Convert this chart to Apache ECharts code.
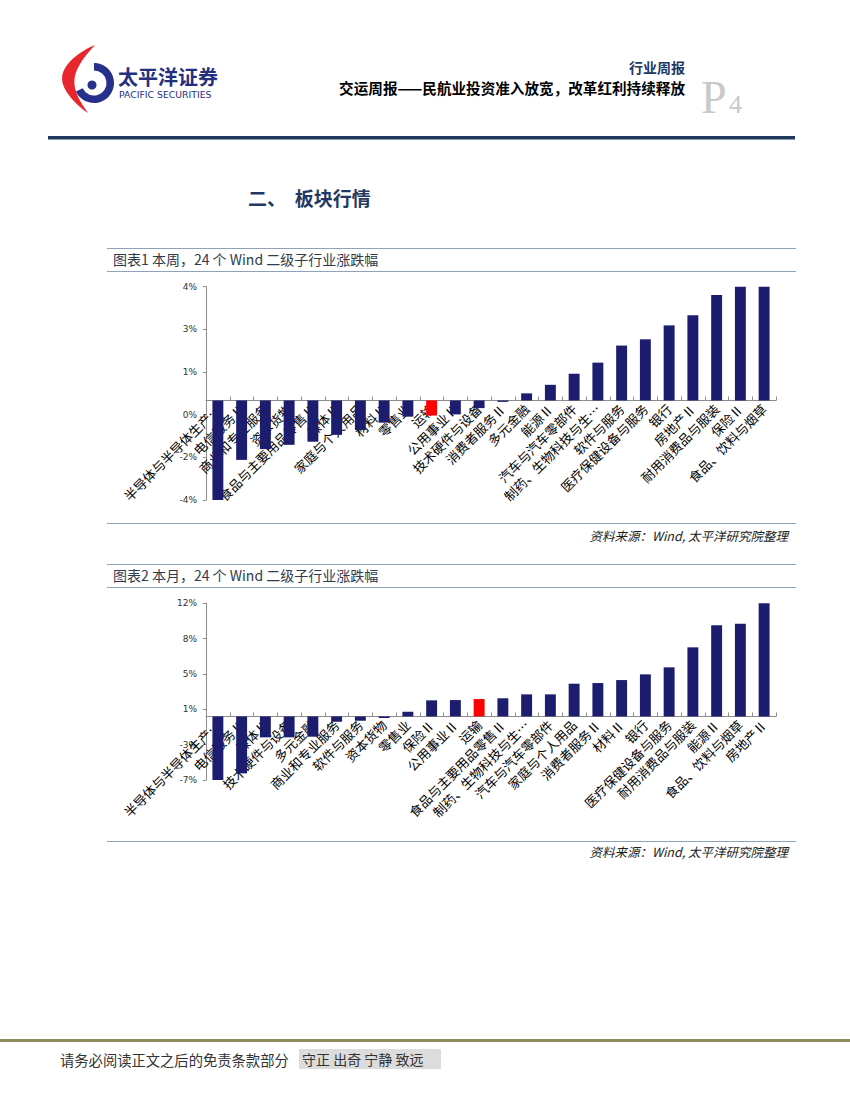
<!DOCTYPE html>
<html>
<head>
<meta charset="utf-8">
<script src="https://cdn.jsdelivr.net/npm/echarts@6/dist/echarts.min.js"></script>
<style>
html,body{margin:0;padding:0;background:#fff;}
#main{width:850px;height:1100px;}
</style>
</head>
<body>
<div id="main"></div>
<script>
// ---------- data ----------
const weekCategories = ['半导体与半导体生产…','电信服务Ⅱ','商业和专业服务','资本货物','食品与主要用品零售Ⅱ','媒体Ⅱ','家庭与个人用品','材料Ⅱ','零售业','运输','公用事业Ⅱ','技术硬件与设备','消费者服务Ⅱ','多元金融','能源Ⅱ','汽车与汽车零部件','制药、生物科技与生…','软件与服务','医疗保健设备与服务','银行','房地产Ⅱ','耐用消费品与服装','保险Ⅱ','食品、饮料与烟草'];
const weekValues = [-3.5,-2.09,-1.71,-1.56,-1.45,-1.21,-1.04,-0.78,-0.57,-0.53,-0.49,-0.27,-0.05,0.25,0.55,0.94,1.33,1.93,2.15,2.64,3.0,3.71,4.0,4.0];
const weekTickValues = [-3.5,-2,-0.5,1,2.5,4];
const weekTickLabels = ['-4%','-2%','0%','1%','3%','4%'];

const monthCategories = ['半导体与半导体生产…','电信服务Ⅱ','媒体Ⅱ','技术硬件与设备','多元金融','商业和专业服务','软件与服务','资本货物','零售业','保险Ⅱ','公用事业Ⅱ','运输','食品与主要用品零售Ⅱ','制药、生物科技与生…','汽车与汽车零部件','家庭与个人用品','消费者服务Ⅱ','材料Ⅱ','银行','医疗保健设备与服务','耐用消费品与服装','能源Ⅱ','食品、饮料与烟草','房地产Ⅱ'];
const monthValues = [-6.8,-6.09,-2.24,-2.24,-2.17,-0.57,-0.46,-0.17,0.5,1.72,1.75,1.86,1.94,2.36,2.36,3.5,3.57,3.89,4.5,5.25,7.39,9.74,9.91,12.1];
const monthTickValues = [-6.8,-3.02,0.76,4.54,8.32,12.1];
const monthTickLabels = ['-7%','-3%','1%','5%','8%','12%'];

const highlightCategory = '运输';

// ---------- styles ----------
const NAVY = '#1d1d6f';
const RED = '#ff0000';
const CJK = '"Noto Sans CJK SC", sans-serif';

const grid1 = {left:206, top:286.7, width:570, height:213.3};
const grid2 = {left:206, top:603.3, width:570, height:176.7};

function barData(cats, vals){
  return vals.map((v,i)=>({value:v,itemStyle:{color: cats[i]===highlightCategory ? RED : NAVY}}));
}
function tickFormatter(ticks, labels){
  return function(v){
    let best=0, d=Infinity;
    ticks.forEach((t,i)=>{ if(Math.abs(t-v)<d){d=Math.abs(t-v);best=i;} });
    return labels[best];
  };
}
// shift the category axis (line, ticks, labels) up to the zero line
function zeroOffset(g, mn, mx){
  return -(g.height * (0 - mn) / (mx - mn));
}
function xAxisCfg(cats, gi, off){
  return {
    type:'category', gridIndex:gi, data:cats, position:'bottom', offset:off,
    axisLine:{onZero:false, lineStyle:{color:'#8c8c8c', width:1}},
    axisTick:{show:true, inside:true, length:4, lineStyle:{color:'#8c8c8c'}},
    axisLabel:{interval:0, rotate:45, margin:6, color:'#000', fontSize:13, fontFamily:CJK, hideOverlap:false},
    splitLine:{show:false}
  };
}
function yAxisCfg(gi, mn, mx, ticks, labels){
  return {
    type:'value', gridIndex:gi, min:mn, max:mx,
    axisLine:{show:true, lineStyle:{color:'#8c8c8c', width:1}},
    axisTick:{show:true, length:3, customValues:ticks, lineStyle:{color:'#8c8c8c'}},
    axisLabel:{customValues:ticks, formatter:tickFormatter(ticks,labels), color:'#333', fontSize:9, fontFamily:'"DejaVu Sans", sans-serif', margin:9},
    splitLine:{show:false}
  };
}

function hline(x, y, w, h, color){
  return {type:'rect', shape:{x:x, y:y, width:w, height:h}, style:{fill:color}, silent:true};
}
function txt(x, y, text, font, fill, align){
  return {type:'text', x:x, y:y, style:{text:text, font:font, fill:fill, align:align||'left', verticalAlign:'middle'}, silent:true};
}
// logo crescent outline (decorative)
function crescentPoints(){
  const pts=[]; const N=30;
  for(let i=0;i<=N;i++){const t=i/N; const s=Math.sin(Math.PI*t); pts.push([95+(88-95)*t - 31*Math.pow(s,0.85)*(1.1-0.3*t), 45+(113-45)*t]);}
  for(let i=N;i>=0;i--){const t=i/N; const s=Math.sin(Math.PI*t); pts.push([95+(88-95)*t - 17*s, 45+(113-45)*t]);}
  return pts;
}

const LINE = '#8ea3b8';
const graphics = [
  {type:'polygon', shape:{points:crescentPoints()}, style:{fill:'#e8262d'}, silent:true},
  {type:'sector', shape:{cx:94, cy:83, r:20, r0:12.5, startAngle:-Math.PI/2, endAngle:Math.PI*0.86, clockwise:true}, style:{fill:'#27318b'}, silent:true},
  {type:'circle', shape:{cx:92, cy:85, r:4.5}, style:{fill:'#27318b'}, silent:true},
  txt(118, 76, '太平洋证券', 'bold 20px "Noto Sans CJK SC"', '#24307f'),
  txt(119, 94, 'PACIFIC SECURITIES', '9.3px "DejaVu Sans"', '#24307f'),
  txt(685, 67, '行业周报', 'bold 14px "Noto Sans CJK SC"', '#1f3864', 'right'),
  txt(685, 87, '交运周报——民航业投资准入放宽，改革红利持续释放', 'bold 14.6px "Noto Sans CJK SC"', '#000', 'right'),
  txt(701, 97, 'P', '46px "Liberation Serif"', '#c9c9c9'),
  txt(729, 104, '4', '26px "Liberation Serif"', '#c9c9c9'),
  hline(48, 136, 747, 3.5, '#1f3a5c'),
  txt(248, 197, '二、  板块行情', 'bold 19px "Noto Sans CJK SC"', '#1f3864'),
  hline(107, 248, 689, 1, LINE),
  txt(113, 259, '图表1 本周，24 个 Wind 二级子行业涨跌幅', '14px "Noto Sans CJK SC"', '#2f3b4c'),
  hline(107, 271, 689, 1, LINE),
  hline(107, 523, 689, 1, LINE),
  txt(788, 535, '资料来源：Wind, 太平洋研究院整理', 'italic 12.5px "Noto Sans CJK SC"', '#222', 'right'),
  hline(107, 564, 689, 1, LINE),
  txt(113, 575, '图表2 本月，24 个 Wind 二级子行业涨跌幅', '14px "Noto Sans CJK SC"', '#2f3b4c'),
  hline(107, 587, 689, 1, LINE),
  hline(107, 841, 689, 1, LINE),
  txt(788, 851, '资料来源：Wind, 太平洋研究院整理', 'italic 12.5px "Noto Sans CJK SC"', '#222', 'right'),
  hline(0, 1039, 850, 3, '#8d8a5c'),
  {type:'rect', shape:{x:299, y:1049, width:142, height:20}, style:{fill:'#dcdcdc'}, silent:true},
  txt(60, 1059, '请务必阅读正文之后的免责条款部分', '14.3px "Noto Sans CJK SC"', '#333'),
  txt(302, 1059, '守正 出奇 宁静 致远', '14px "Noto Sans CJK SC"', '#333')
];

const chart = echarts.init(document.getElementById('main'), null, {renderer:'svg', width:850, height:1100});
chart.setOption({
  animation:false,
  backgroundColor:'#fff',
  textStyle:{fontFamily:CJK},
  grid:[
    Object.assign({containLabel:false, outerBoundsMode:'none'}, grid1),
    Object.assign({containLabel:false, outerBoundsMode:'none'}, grid2)
  ],
  xAxis:[
    xAxisCfg(weekCategories, 0, zeroOffset(grid1, -3.5, 4)),
    xAxisCfg(monthCategories, 1, zeroOffset(grid2, -6.8, 12.1))
  ],
  yAxis:[
    yAxisCfg(0, -3.5, 4, weekTickValues, weekTickLabels),
    yAxisCfg(1, -6.8, 12.1, monthTickValues, monthTickLabels)
  ],
  series:[
    {type:'bar', xAxisIndex:0, yAxisIndex:0, data:barData(weekCategories, weekValues), barWidth:'46%'},
    {type:'bar', xAxisIndex:1, yAxisIndex:1, data:barData(monthCategories, monthValues), barWidth:'46%'}
  ],
  graphic:{elements:graphics}
});
</script>
</body>
</html>
